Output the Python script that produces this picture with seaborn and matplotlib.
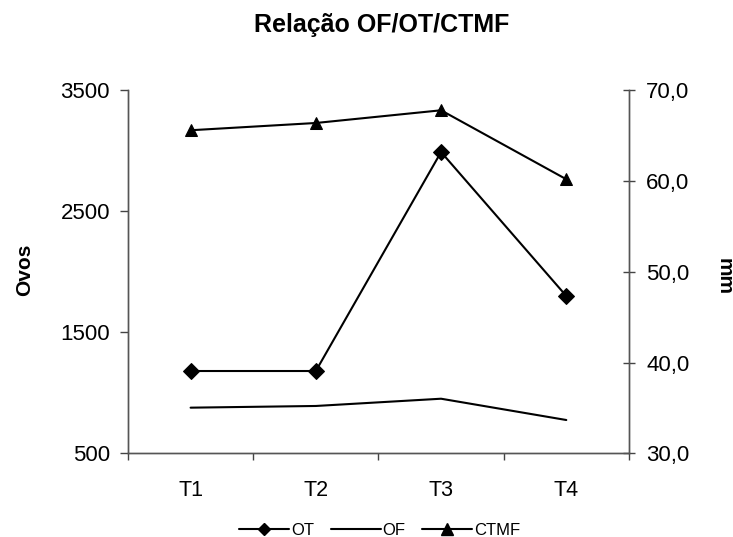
import matplotlib
matplotlib.use("Agg")
import matplotlib.pyplot as plt
import seaborn as sns
import pandas as pd
from matplotlib.ticker import FuncFormatter, FixedLocator
from matplotlib.lines import Line2D

categories = ["T1", "T2", "T3", "T4"]
ot_values = [1180, 1180, 2990, 1800]
of_values = [877, 891, 951, 775]
ctmf_values = [65.6, 66.4, 67.8, 60.2]
left_ticks = [500, 1500, 2500, 3500]
right_ticks = [30, 40, 50, 60, 70]

sns.set_theme(style="white")
plt.rcParams['font.family'] = ['Liberation Sans', 'DejaVu Sans']
plt.rcParams['text.color'] = 'black'
plt.rcParams['axes.labelcolor'] = 'black'
plt.rcParams['xtick.color'] = 'black'
plt.rcParams['ytick.color'] = 'black'

df = pd.DataFrame({"cat": categories, "x": range(len(categories)),
                   "OT": ot_values, "OF": of_values, "CTMF": ctmf_values})

fig = plt.figure(figsize=(7.33, 5.37), dpi=100)
ax = fig.add_axes([0.1746, 0.1559, 0.858 - 0.1746, 0.8318 - 0.1559])
ax2 = ax.twinx()

sns.lineplot(data=df, x="x", y="OT", ax=ax, color="black", marker="D",
             markersize=8.5, linewidth=1.5, markeredgecolor="black")
sns.lineplot(data=df, x="x", y="OF", ax=ax, color="black", linewidth=1.5)
sns.lineplot(data=df, x="x", y="CTMF", ax=ax2, color="black", marker="^",
             markersize=9, linewidth=1.5, markeredgecolor="black")

ax.set_xlim(-0.5, len(categories) - 0.5)
ax.set_ylim(500, 3500)
ax2.set_ylim(30, 70)
ax.set_yticks(left_ticks)
ax2.set_yticks(right_ticks)
ax2.yaxis.set_major_formatter(FuncFormatter(lambda v, p: f"{v:.1f}".replace(".", ",")))

ax.set_xticks(range(len(categories)))
ax.set_xticklabels(categories)
ax.xaxis.set_minor_locator(FixedLocator([i - 0.5 for i in range(len(categories) + 1)]))
ax.tick_params(axis="x", which="major", length=0, pad=19, labelsize=15.5, labelcolor="black")
ax.tick_params(axis="x", which="minor", length=5, width=1, color="#444444", direction="out", bottom=True)
ax.tick_params(axis="y", length=6, width=1, color="#444444", direction="out", left=True,
               labelsize=16, pad=7, labelcolor="black")
ax2.tick_params(axis="y", length=9, width=1, color="#444444", direction="inout", right=True,
                labelsize=16, pad=8, labelcolor="black")

for a in (ax, ax2):
    a.spines["top"].set_visible(False)
    for s in ("left", "right", "bottom"):
        a.spines[s].set_color("#555555")
        a.spines[s].set_linewidth(1.0)
    a.grid(False)

ax.set_xlabel("")
ax.set_ylabel("Ovos", fontsize=15, fontweight="bold", va="center", color="black")
ax.yaxis.set_label_coords(-0.2056, 0.505)
ax2.set_ylabel("mm", fontsize=15, fontweight="bold", rotation=270, va="center", color="black")
ax2.yaxis.set_label_coords(1.19, 0.486)

fig.text(0.521, 1 - 32 / 537, "Relação OF/OT/CTMF", ha="center", va="baseline",
         fontsize=18, fontweight="bold", color="black")

handles = [
    Line2D([], [], color="black", marker="D", markersize=6, linewidth=1.5),
    Line2D([], [], color="black", linewidth=1.5),
    Line2D([], [], color="black", marker="^", markersize=8, linewidth=1.5),
]
fig.legend(handles, ["OT", "OF", "CTMF"], loc="center", bbox_to_anchor=(0.518, 0.013),
           ncol=3, frameon=False, fontsize=12, handlelength=3.0, handletextpad=0.1,
           columnspacing=1.0, borderpad=0, labelcolor="black")

fig.savefig("out.png", dpi=100)
